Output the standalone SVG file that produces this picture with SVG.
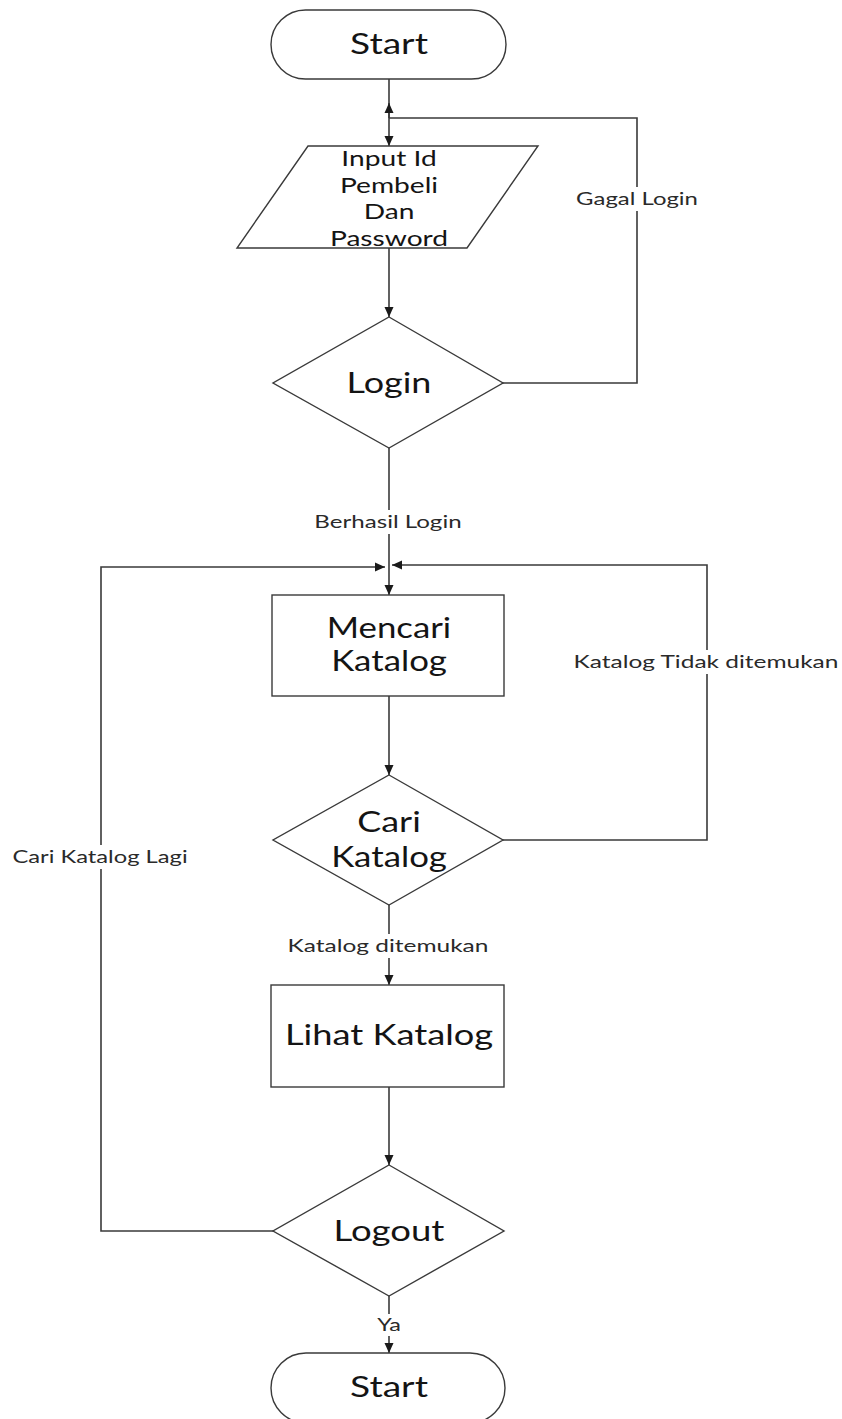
<svg xmlns="http://www.w3.org/2000/svg" width="842" height="1419" viewBox="0 0 842 1419">
  <style>
    .shape { fill: #ffffff; stroke: #3a3a3a; stroke-width: 1.4; }
    .wire { fill: none; stroke: #3a3a3a; stroke-width: 1.6; }
    .node-text { font-family: Lato, "Liberation Sans", sans-serif; font-size: 29px; fill: #141414; text-anchor: middle; }
    .io-text { font-family: Lato, "Liberation Sans", sans-serif; font-size: 22px; fill: #141414; text-anchor: middle; }
    .edge-label { font-family: Lato, "Liberation Sans", sans-serif; font-size: 18px; fill: #2a2a2a; text-anchor: middle; }
    .label-bg { fill: #ffffff; }
  </style>
  <defs>
    <marker id="arrow" viewBox="0 0 10 10" refX="10" refY="5" markerWidth="10" markerHeight="10" markerUnits="userSpaceOnUse" orient="auto">
      <path d="M0,0.5 L10,5 L0,9.5 Z" fill="#1a1a1a"/>
    </marker>
  </defs>

  <!-- connectors -->
  <g id="connectors">
    <line class="wire" x1="389" y1="79" x2="389" y2="146" marker-end="url(#arrow)"/>
    <line class="wire" x1="389" y1="118" x2="389" y2="103" marker-end="url(#arrow)"/>
    <line class="wire" x1="389" y1="248" x2="389" y2="317" marker-end="url(#arrow)"/>
    <polyline class="wire" points="503,383 637,383 637,118 389,118"/>
    <line class="wire" x1="389" y1="448" x2="389" y2="595" marker-end="url(#arrow)"/>
    <polyline class="wire" points="503,840 707,840 707,565 392,565" marker-end="url(#arrow)"/>
    <polyline class="wire" points="273,1231 101,1231 101,567 385,567" marker-end="url(#arrow)"/>
    <line class="wire" x1="389" y1="696" x2="389" y2="775" marker-end="url(#arrow)"/>
    <line class="wire" x1="389" y1="905" x2="389" y2="985" marker-end="url(#arrow)"/>
    <line class="wire" x1="389" y1="1087" x2="389" y2="1165" marker-end="url(#arrow)"/>
    <line class="wire" x1="389" y1="1296" x2="389" y2="1353" marker-end="url(#arrow)"/>

    <!-- edge labels, drawn with a horizontal stretch on a white backing -->
    <g id="label-gagal">
      <rect class="label-bg" x="574" y="187" width="126" height="24"/>
      <text class="edge-label" transform="matrix(1.33 0 0 1 637 205)">Gagal Login</text>
    </g>
    <g id="label-berhasil">
      <rect class="label-bg" x="313" y="510" width="152" height="24"/>
      <text class="edge-label" transform="matrix(1.34 0 0 1 388 528)">Berhasil Login</text>
    </g>
    <g id="label-tidak">
      <rect class="label-bg" x="572" y="650" width="270" height="24"/>
      <text class="edge-label" transform="matrix(1.36 0 0 1 706 668)">Katalog Tidak ditemukan</text>
    </g>
    <g id="label-lagi">
      <rect class="label-bg" x="10" y="845" width="182" height="24"/>
      <text class="edge-label" transform="matrix(1.32 0 0 1 100 863)">Cari Katalog Lagi</text>
    </g>
    <g id="label-ditemukan">
      <rect class="label-bg" x="284" y="934" width="208" height="24"/>
      <text class="edge-label" transform="matrix(1.36 0 0 1 388 952)">Katalog ditemukan</text>
    </g>
    <g id="label-ya">
      <rect class="label-bg" x="375" y="1314" width="28" height="22"/>
      <text class="edge-label" transform="matrix(1.3 0 0 1 389 1331)">Ya</text>
    </g>
  </g>

  <g id="start">
    <rect class="shape" x="271" y="10" width="235" height="69" rx="34.5" ry="34.5"/>
    <text class="node-text" transform="matrix(1.28 0 0 1 389 54)">Start</text>
  </g>

  <g id="input">
    <polygon class="shape" points="308,146 538,146 467,248 237,248"/>
    <text class="io-text" transform="matrix(1.28 0 0 1 389 166)">Input Id</text>
    <text class="io-text" transform="matrix(1.28 0 0 1 389 192.5)">Pembeli</text>
    <text class="io-text" transform="matrix(1.28 0 0 1 389 219)">Dan</text>
    <text class="io-text" transform="matrix(1.28 0 0 1 389 245.5)">Password</text>
  </g>

  <g id="login">
    <polygon class="shape" points="389,317 503,383 389,448 273,383"/>
    <text class="node-text" transform="matrix(1.24 0 0 1 389 393)">Login</text>
  </g>

  <g id="mencari">
    <rect class="shape" x="272" y="595" width="232" height="101"/>
    <text class="node-text" transform="matrix(1.2 0 0 1 389 638)">Mencari</text>
    <text class="node-text" transform="matrix(1.2 0 0 1 389 671)">Katalog</text>
  </g>

  <g id="cari">
    <polygon class="shape" points="389,775 503,840 389,905 273,840"/>
    <text class="node-text" transform="matrix(1.24 0 0 1 389 832)">Cari</text>
    <text class="node-text" transform="matrix(1.2 0 0 1 389 867)">Katalog</text>
  </g>

  <g id="lihat">
    <rect class="shape" x="271" y="985" width="233" height="102"/>
    <text class="node-text" transform="matrix(1.25 0 0 1 389 1045)">Lihat Katalog</text>
  </g>

  <g id="logout">
    <polygon class="shape" points="389,1165 504,1231 389,1296 273,1231"/>
    <text class="node-text" transform="matrix(1.26 0 0 1 389 1241)">Logout</text>
  </g>

  <g id="end">
    <rect class="shape" x="271" y="1353" width="234" height="70" rx="35" ry="35"/>
    <text class="node-text" transform="matrix(1.28 0 0 1 389 1397)">Start</text>
  </g>
</svg>
